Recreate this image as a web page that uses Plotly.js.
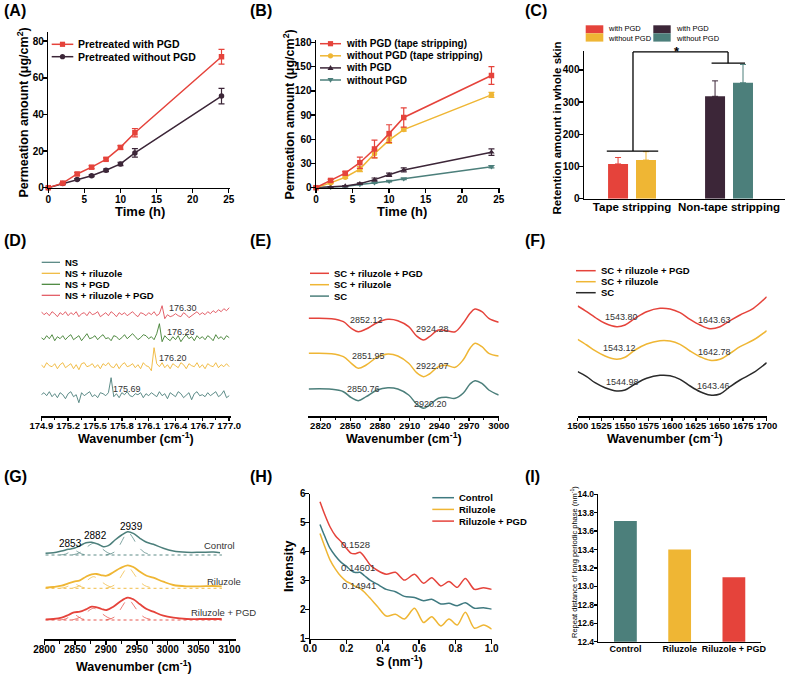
<!DOCTYPE html>
<html><head><meta charset="utf-8">
<script src="https://cdn.plot.ly/plotly-3.0.1.min.js"></script>
<style>html,body{margin:0;padding:0;background:#fff}#chart{width:788px;height:674px}</style>
</head><body><div id="chart"></div>
<script>
// ---------------- DATA ----------------
// (A)
const timeA = [0, 2, 4, 6, 8, 10, 12, 24];
const aWithPGD = [0, 2.5, 7.5, 11.2, 15.5, 22, 30, 71.5];
const aWithPGDErr = [0, 0.3, 0.8, 0.8, 0.8, 1, 2.3, 4];
const aWithoutPGD = [0, 2.3, 4.5, 6.5, 9.5, 13, 19, 50];
const aWithoutPGDErr = [0, 0.3, 0.5, 0.5, 0.7, 0.9, 2.3, 4.2];
// (B)
const timeB = [0, 2, 4, 6, 8, 10, 12, 24];
const bWithTape = [0, 9, 18, 31, 48, 67, 87, 139];
const bWithTapeErr = [0, 1.5, 2, 7, 11, 11, 12, 11];
const bWithoutTape = [0, 6, 13, 23, 42, 59, 72, 115];
const bWithoutTapeErr = [0, 1, 1.5, 3, 5, 4, 2, 3];
const bWith = [0, 1, 2, 5, 10, 16, 22, 44];
const bWithErr = [0, 0.5, 0.5, 1, 2, 2, 2.5, 4];
const bWithout = [0, 0.5, 1.5, 4, 6, 8, 11, 26];
const bWithoutErr = [0, 0.3, 0.4, 0.5, 0.6, 0.8, 1, 1.5];
// (C)
const catsC = ['Tape stripping', 'Non-tape stripping'];
const cTapeWith = 108, cTapeWithErr = 20;
const cTapeWithout = 120, cTapeWithoutErr = 26;
const cNonWith = 318, cNonWithErr = 48;
const cNonWithout = 360, cNonWithoutErr = 57;
// (D) Raman-like noisy spectra (stacked values)
const xD = [174.90,174.93,174.96,174.99,175.02,175.05,175.08,175.11,175.14,175.17,
 175.20,175.23,175.26,175.29,175.32,175.35,175.38,175.41,175.44,175.47,
 175.50,175.53,175.56,175.59,175.62,175.65,175.68,175.71,175.74,175.77,
 175.80,175.83,175.86,175.89,175.92,175.95,175.98,176.01,176.04,176.07,
 176.10,176.13,176.16,176.19,176.22,176.25,176.28,176.31,176.34,176.37,
 176.40,176.43,176.46,176.49,176.52,176.55,176.58,176.61,176.64,176.67,
 176.70,176.73,176.76,176.79,176.82,176.85,176.88,176.91,176.94,176.97,177.00];
const dNS = [21,23,20,24,19,22,18,23,21,17, 22,24,19,21,13,23,20,22,24,19,
 21,18,23,22,20,23,38,19,22,18, 23,21,24,20,19,22,21,23,18,22,
 20,23,21,19,24,20,22,17,23,21, 19,24,22,18,21,23,16,22,24,20,
 21,19,23,20,22,24,19,21,25,18, 20];
const dNSRil = [51,48,53,50,49,52,47,51,53,48, 50,52,47,51,46,52,53,49,50,52,
 48,51,47,52,50,53,49,48,52,47, 51,53,49,50,52,48,51,47,53,50,
 49,45,68,52,49,53,48,51,47,52, 50,48,53,51,47,52,50,49,53,48,
 51,47,52,50,49,53,48,51,49,52, 49];
const dNSPGD = [78,76,80,77,81,75,79,77,80,76, 79,81,76,78,80,75,79,82,77,78,
 80,76,79,81,77,78,75,80,79,76, 78,81,77,80,82,79,76,78,81,80,
 77,79,76,82,92,74,80,77,75,79, 76,80,74,78,81,77,79,75,80,77,
 79,76,80,78,75,81,77,79,76,80, 78];
const dNSRilPGD = [104,101,103,100,104,102,99,103,101,104, 100,103,101,104,99,102,103,100,104,101,
 102,104,99,101,103,100,104,102,99,103, 101,103,100,102,104,101,99,103,102,100,
 103,101,104,100,102,110,97,101,99,100, 102,100,99,103,101,98,100,102,104,101,
 103,101,104,102,105,103,106,104,107,105, 108];
const peaksD = ['175.69', '176.20', '176.26', '176.30'];
// (E) FTIR 2800-3000
const xE = [2808,2831,2843,2851,2858,2866,2877,2888,2898,2909,2917,2924,2930,2939,2947,2956,2964,2971,2976,2983,2990,3000];
const eRilPGD = [97.4,97.0,94.0,87.4,84.0,86.7,93.0,96.4,95.0,89.0,79.7,75.7,79.0,85.7,85.0,84.0,92.4,102.4,106.7,104.0,97.4,93.4];
const eRil = [62.4,62.0,59.0,52.4,47.4,50.7,58.4,61.7,59.7,52.4,43.0,39.0,41.7,49.0,50.4,48.4,55.7,67.4,72.4,69.0,62.4,59.7];
const eSC = [26.7,26.4,24.0,18.0,15.0,19.0,25.7,28.0,26.7,20.7,11.7,7.4,10.7,17.4,18.4,17.4,22.4,31.7,35.0,32.4,25.7,20.7];
const peaksE = [['2852.12','2924.28'],['2851.95','2922.07'],['2850.76','2920.20']];
// (F) FTIR 1500-1700
const xF = [1500,1509.5,1518.3,1528.9,1541.3,1550.1,1560.7,1573,1587.1,1597.7,1608.3,1618.9,1629.5,1640,1650.6,1661.2,1671.8,1685.9,1700];
const fRilPGD = [109.7,104.0,98.4,92.4,89.0,90.7,97.4,104.0,107.4,106.7,103.0,96.4,90.7,87.0,89.0,95.0,100.7,107.4,119.0];
const fRil = [76.4,70.7,65.0,59.7,56.4,58.4,65.7,71.7,75.0,74.7,71.4,64.7,59.0,55.4,56.4,62.4,69.0,75.7,85.0];
const fSC = [44.0,39.0,33.0,28.0,24.7,25.7,31.7,37.4,40.4,40.0,36.4,29.7,24.0,20.7,21.7,29.0,35.7,43.0,53.0];
const peaksF = [['1543.80','1643.63'],['1543.12','1642.78'],['1544.98','1643.46']];
// (G) Raman 2800-3100 with fitted components
const xGc = [2802,2814.6,2828,2839,2848,2857.8,2867.6,2876.8,2887.6,2895.7,2903.8,2914.6,2925.4,2935.1,2944.3,2955.1,2965.9,2976.8,2993,3009.2,3030.8,3052.4,3074.1,3084.9];
const gControl = [86.0,86.6,88.3,90.0,91.0,93.6,96.6,97.0,95.0,92.6,93.6,99.3,104.3,107.6,106.0,101.0,97.0,95.0,91.0,88.3,87.0,87.0,87.3,86.6];
const xGr = [2802.2,2814.6,2828.1,2838.9,2848.1,2857.8,2867.6,2876.8,2884.9,2893,2901.1,2911.9,2922.7,2935.1,2944.3,2955.1,2965.9,2976.8,2993,3009.2,3030.8,3052.4,3074.1,3087.6];
const gRil = [51.6,52.3,53.6,56.0,57.6,59.0,62.6,65.0,65.3,64.0,63.6,67.0,71.0,74.0,72.3,67.6,63.6,61.6,57.6,54.3,53.0,53.0,53.3,53.0];
const gRilPGD = [20.0,20.3,21.6,24.3,27.0,27.6,30.0,32.6,32.0,30.3,29.3,32.6,37.6,41.6,40.0,35.0,30.3,27.6,23.6,21.6,20.3,20.3,20.3,20.3];
const xComp2853 = [2825,2835,2842,2848,2854,2861,2871];
const xComp2882 = [2845,2857,2867,2874,2880,2886,2893,2903,2915];
const xComp2939 = [2900,2913,2923,2930,2936,2942,2950,2962,2978];
const xGBase = [2802, 3088];
const gCtl2853 = [84.3,85.3,87.6,89.3,87.6,85.3,84.3];
const gCtl2882 = [84.3,86.5,91,94.5,96,94.5,91,86.5,84.3];
const gCtl2939 = [84.3,87,95,103,107,103,95,87,84.3];
const gCtlBase = [84.3,84.3];
const gRil2853 = [51,52.2,54.2,56,54.2,52.2,51];
const gRil2882 = [51,53.5,57.5,61,62.6,61,57.5,53.5,51];
const gRil2939 = [51,54,61.5,68.5,72.6,68.5,61.5,54,51];
const gRilBase = [51,51];
const gPGD2853 = [19.3,20.5,23,25,23,20.5,19.3];
const gPGD2882 = [19.3,21.8,26,29.5,31,29.5,26,21.8,19.3];
const gPGD2939 = [19.3,22,29.5,36.5,40.3,36.5,29.5,22,19.3];
const gPGDBase = [19.3,19.3];
const peaksG = ['2853','2882','2939'];
const namesG = ['Control','Riluzole','Riluzole + PGD'];
// (H) SAXS
const xH = [0.055,0.08,0.11,0.14,0.17,0.2,0.225,0.25,0.275,0.3,0.33,0.37,0.42,0.47,0.52,0.575,0.625,0.67,0.72,0.765,0.81,0.855,0.905,0.955,1.0];
const hControl = [4.94,4.55,4.12,3.85,3.64,3.50,3.36,3.28,3.29,3.17,3.02,2.88,2.70,2.62,2.46,2.42,2.31,2.36,2.20,2.22,2.14,2.24,2.05,2.07,2.02];
const hRil = [4.63,4.20,3.72,3.40,3.15,2.98,2.90,2.80,2.74,2.60,2.40,2.12,1.78,1.84,1.68,2.05,1.56,1.76,1.44,1.68,1.47,1.91,1.36,1.47,1.33];
const hRilPGD = [5.72,5.30,4.86,4.55,4.35,4.12,3.95,3.93,3.98,3.82,3.55,3.36,3.22,3.29,3.02,3.22,2.91,3.10,2.82,2.97,2.77,3.08,2.70,2.76,2.70];
const peaksH = ['0.1528','0.14601','0.14941'];
// (I)
const catsI = ['Control', 'Riluzole', 'Riluzole + PGD'];
const repeatI = [13.71, 13.40, 13.10];

// ---------------- STYLE ----------------
const W = 788, H = 674;
const F = 'Liberation Sans, Arial, sans-serif';
const RED = '#e5433b', YEL = '#efb634', DARK = '#3c2638', TEAL = '#4c7f7b', GREEN = '#3f7f30', PINK = '#e0505a', BLK = '#2a2a2a', HBLUE = '#3f7a80';
const px = x => x / W, py = y => 1 - y / H;
const xd = (a, b) => [a / W, b / W];
const yd = (top, bot) => [1 - bot / H, 1 - top / H];

function axis(extra) {
  return Object.assign({showline: true, linecolor: '#000', linewidth: 1.5, ticks: 'outside', ticklen: 4, tickwidth: 1.5,
    tickcolor: '#000', showgrid: false, zeroline: false, automargin: false, fixedrange: true,
    tickfont: {family: F, size: 10, weight: 'bold', color: '#000'}}, extra);
}
function hidden(extra) { return Object.assign({visible: false, fixedrange: true, showgrid: false, zeroline: false}, extra); }

function txt(x, y, text, size, bold, anchor, extra) {
  return Object.assign({xref: 'paper', yref: 'paper', x: px(x), y: py(y), text: text, showarrow: false,
    xanchor: anchor || 'left', yanchor: 'middle', align: 'left',
    font: {family: F, size: size, color: '#000', weight: bold ? 'bold' : 'normal'}}, extra || {});
}
const annotations = [];
const shapes = [];
function legLine(x0, x1, y, color, w) {
  shapes.push({type: 'line', xref: 'paper', yref: 'paper', x0: px(x0), x1: px(x1), y0: py(y), y1: py(y), line: {color: color, width: w || 1.5}});
}
function legMarker(cx, cy, sym, color, r) {
  r = r || 2.6;
  if (sym === 'square') shapes.push({type: 'rect', xref: 'paper', yref: 'paper', x0: px(cx - r), x1: px(cx + r), y0: py(cy + r), y1: py(cy - r), fillcolor: color, line: {width: 0}});
  else if (sym === 'circle') shapes.push({type: 'circle', xref: 'paper', yref: 'paper', x0: px(cx - r), x1: px(cx + r), y0: py(cy + r), y1: py(cy - r), fillcolor: color, line: {width: 0}});
  else {
    const s = sym === 'up' ? 1 : -1;
    const path = 'M' + px(cx - r - 0.4) + ',' + py(cy + s * r * 0.8) + ' L' + px(cx + r + 0.4) + ',' + py(cy + s * r * 0.8) + ' L' + px(cx) + ',' + py(cy - s * r * 1.1) + ' Z';
    shapes.push({type: 'path', xref: 'paper', yref: 'paper', path: path, fillcolor: color, line: {width: 0}});
  }
}
function legRect(x0, x1, y0, y1, color) {
  shapes.push({type: 'rect', xref: 'paper', yref: 'paper', x0: px(x0), x1: px(x1), y0: py(y1), y1: py(y0), fillcolor: color, line: {width: 0}});
}

// ---------------- TRACES ----------------
const traces = [];
function errs(arr, color) { return {type: 'data', array: arr, color: color, thickness: 1.2, width: 3}; }
function lm(x, y, err, color, sym, xa, ya) {
  traces.push({type: 'scatter', mode: 'lines+markers', x: x, y: y, error_y: errs(err, color), cliponaxis: false,
    line: {color: color, width: 1.5}, marker: {symbol: sym, size: 5.5, color: color}, xaxis: xa, yaxis: ya, showlegend: false});
}
// A
lm(timeA, aWithoutPGD, aWithoutPGDErr, DARK, 'circle', 'x', 'y');
lm(timeA, aWithPGD, aWithPGDErr, RED, 'square', 'x', 'y');
// B
lm(timeB, bWithout, bWithoutErr, TEAL, 'triangle-down', 'x2', 'y2');
lm(timeB, bWith, bWithErr, DARK, 'triangle-up', 'x2', 'y2');
lm(timeB, bWithoutTape, bWithoutTapeErr, YEL, 'circle', 'x2', 'y2');
lm(timeB, bWithTape, bWithTapeErr, RED, 'square', 'x2', 'y2');
// C
function barC(cat, val, err, color, off) {
  traces.push({type: 'bar', x: [cat], y: [val], width: 0.206, offset: off, marker: {color: color},
    error_y: {type: 'data', symmetric: false, array: [err], arrayminus: [0], color: color, thickness: 1, width: 3},
    xaxis: 'x3', yaxis: 'y3', showlegend: false});
}
barC(catsC[0], cTapeWith, cTapeWithErr, RED, -0.247);
barC(catsC[0], cTapeWithout, cTapeWithoutErr, YEL, 0.041);
barC(catsC[1], cNonWith, cNonWithErr, DARK, -0.247);
barC(catsC[1], cNonWithout, cNonWithoutErr, TEAL, 0.041);
// D
[[dNS, TEAL], [dNSRil, YEL], [dNSPGD, GREEN], [dNSRilPGD, PINK]].forEach(function (p) {
  traces.push({type: 'scatter', mode: 'lines', x: xD, y: p[0], line: {color: p[1], width: 0.9}, xaxis: 'x4', yaxis: 'y4', showlegend: false});
});
// E
[[eSC, TEAL], [eRil, YEL], [eRilPGD, RED]].forEach(function (p) {
  traces.push({type: 'scatter', mode: 'lines', x: xE, y: p[0], line: {color: p[1], width: 1.5, shape: 'spline', smoothing: 1}, xaxis: 'x5', yaxis: 'y5', showlegend: false});
});
// F
[[fSC, BLK], [fRil, YEL], [fRilPGD, RED]].forEach(function (p) {
  traces.push({type: 'scatter', mode: 'lines', x: xF, y: p[0], line: {color: p[1], width: 1.5, shape: 'spline', smoothing: 1}, xaxis: 'x6', yaxis: 'y6', showlegend: false});
});
// G
function gLine(x, y, color, w, dash) {
  traces.push({type: 'scatter', mode: 'lines', x: x, y: y, line: {color: color, width: w, dash: dash || 'solid', shape: 'spline', smoothing: 1}, xaxis: 'x7', yaxis: 'y7', showlegend: false});
}
[[gCtlBase, gCtl2853, gCtl2882, gCtl2939, TEAL], [gRilBase, gRil2853, gRil2882, gRil2939, YEL], [gPGDBase, gPGD2853, gPGD2882, gPGD2939, RED]].forEach(function (c) {
  gLine(xGBase, c[0], c[4], 0.9, 'dot');
  gLine(xComp2853, c[1], c[4], 0.7, 'dash');
  gLine(xComp2882, c[2], c[4], 0.7, 'dash');
  gLine(xComp2939, c[3], c[4], 0.7, 'dash');
});
gLine(xGc, gControl, TEAL, 1.5);
gLine(xGr, gRil, YEL, 1.8);
gLine(xGr, gRilPGD, RED, 1.8);
// H
[[hControl, HBLUE], [hRil, YEL], [hRilPGD, RED]].forEach(function (p) {
  traces.push({type: 'scatter', mode: 'lines', x: xH, y: p[0], line: {color: p[1], width: 1.5, shape: 'spline', smoothing: 0.8}, xaxis: 'x8', yaxis: 'y8', showlegend: false});
});
// I
traces.push({type: 'bar', x: catsI, y: repeatI, width: 0.42, marker: {color: [TEAL, YEL, RED]}, xaxis: 'x9', yaxis: 'y9', showlegend: false});

// ---------------- BRACKETS (C) ----------------
const tapeTop = Math.max(cTapeWith + cTapeWithErr, cTapeWithout + cTapeWithoutErr) + 2;
const nonTop = Math.max(cNonWith + cNonWithErr, cNonWithout + cNonWithoutErr) + 4;
const brTop = nonTop + 35;
const bl = {color: '#000', width: 1.3};
shapes.push({type: 'line', xref: 'x3', yref: 'y3', x0: -0.26, x1: 0.27, y0: tapeTop, y1: tapeTop, line: bl});
shapes.push({type: 'line', xref: 'x3', yref: 'y3', x0: 0.01, x1: 0.01, y0: tapeTop, y1: brTop, line: bl});
shapes.push({type: 'line', xref: 'x3', yref: 'y3', x0: 0.01, x1: 0.99, y0: brTop, y1: brTop, line: bl});
shapes.push({type: 'line', xref: 'x3', yref: 'y3', x0: 0.99, x1: 0.99, y0: brTop, y1: nonTop, line: bl});
shapes.push({type: 'line', xref: 'x3', yref: 'y3', x0: 0.82, x1: 1.165, y0: nonTop, y1: nonTop, line: bl});
annotations.push({xref: 'x3', yref: 'y3', x: 0.46, y: brTop, text: '*', showarrow: false, yanchor: 'middle', font: {family: F, size: 13, weight: 'bold', color: '#000'}});

// ---------------- LEGENDS ----------------
// A
legLine(51.7, 73.3, 44.3, RED); legMarker(62.5, 44.3, 'square', RED);
annotations.push(txt(76, 44.3, 'Pretreated with PGD', 10.5, true));
legLine(51.7, 73.3, 56.7, DARK); legMarker(62.5, 56.7, 'circle', DARK);
annotations.push(txt(76, 56.7, 'Pretreated without PGD', 10.5, true));
// B
const legB = [['with PGD (tape stripping)', RED, 'square'], ['without PGD (tape stripping)', YEL, 'circle'], ['with PGD', DARK, 'up'], ['without PGD', TEAL, 'down']];
legB.forEach(function (l, i) {
  const y = 43.7 + i * 12.1;
  legLine(320, 341, y, l[1]); legMarker(330.5, y, l[2], l[1]);
  annotations.push(txt(344.3, y, l[0], 10, true));
});
// C
legRect(585.7, 603.3, 25.3, 33.3, RED); legRect(585.7, 603.3, 33.3, 41.6, YEL);
legRect(653.3, 670.7, 25.3, 33.3, DARK); legRect(653.3, 670.7, 33.3, 41.6, TEAL);
annotations.push(txt(606, 29, 'with PGD', 7.5, false)); annotations.push(txt(606, 38.3, 'without PGD', 7.5, false));
annotations.push(txt(673.5, 29, 'with PGD', 7.5, false)); annotations.push(txt(673.5, 38.3, 'without PGD', 7.5, false));
// D
[['NS', TEAL], ['NS + riluzole', YEL], ['NS + PGD', GREEN], ['NS + riluzole + PGD', PINK]].forEach(function (l, i) {
  const y = 262.3 + i * 11;
  legLine(41.7, 60, y, l[1], 1.2);
  annotations.push(txt(63.3, y, l[0], 9.5, true));
});
// E
[['SC + riluzole + PGD', RED], ['SC + riluzole', YEL], ['SC', TEAL]].forEach(function (l, i) {
  const y = 273.3 + i * 11.4;
  legLine(310, 329, y, l[1], 1.5);
  annotations.push(txt(332.3, y, l[0], 9.5, true));
});
// F
[['SC + riluzole + PGD', RED], ['SC + riluzole', YEL], ['SC', BLK]].forEach(function (l, i) {
  const y = 270.7 + i * 11;
  legLine(576, 595.7, y, l[1], 1.5);
  annotations.push(txt(599, y, l[0], 9.5, true));
});
// H
[['Control', HBLUE], ['Riluzole', YEL], ['Riluzole + PGD', RED]].forEach(function (l, i) {
  const y = 497.7 + i * 11.7;
  legLine(432.3, 454, y, l[1], 1.5);
  annotations.push(txt(456.7, y, l[0], 9.5, true));
});

// ---------------- PEAK LABELS ----------------
function plab(x, y, t, s) { const a = txt(x, y, t, s || 9, false); a.font.color = '#333'; annotations.push(a); }
plab(111, 389.3, peaksD[0]); plab(156.7, 358.3, peaksD[1]); plab(165, 332.3, peaksD[2]); plab(166.7, 307.7, peaksD[3]);
plab(347.7, 320, peaksE[0][0]); plab(414.3, 329, peaksE[0][1]);
plab(350, 356, peaksE[1][0]); plab(414, 365.7, peaksE[1][1]);
plab(345, 389.3, peaksE[2][0]); plab(412.3, 404, peaksE[2][1]);
plab(603.3, 317.3, peaksF[0][0]); plab(695.7, 320, peaksF[0][1]);
plab(601, 348.3, peaksF[1][0]); plab(695.7, 352.3, peaksF[1][1]);
plab(604, 382.3, peaksF[2][0]); plab(695, 385.7, peaksF[2][1]);
annotations.push(txt(57.3, 543.3, peaksG[0], 10, false)); annotations.push(txt(81.7, 535, peaksG[1], 10, false)); annotations.push(txt(118.3, 526.7, peaksG[2], 10, false));
[[202.3, 545], [205, 581], [189, 612.7]].forEach(function (p, i) { const a = txt(p[0], p[1], namesG[i], 9.5, false); a.font.color = '#333'; annotations.push(a); });
plab(339, 544.3, peaksH[0], 9.5); plab(339, 567.3, peaksH[1], 9.5); plab(340, 585, peaksH[2], 9.5);

// ---------------- TITLES ----------------
['(A)', '(B)', '(C)', '(D)', '(E)', '(F)', '(G)', '(H)', '(I)'].forEach(function (t, i) {
  const xs = [2, 248, 523], ys = [11, 241, 477];
  annotations.push(txt(xs[i % 3], ys[Math.floor(i / 3)], t, 16, true));
});
annotations.push(txt(22.5, 113, 'Permeation amount (μg/cm<sup>2</sup>)', 12.5, true, 'center', {textangle: -90}));
annotations.push(txt(139.5, 211.5, 'Time (h)', 13, true, 'center'));
annotations.push(txt(288.5, 115, 'Permeation amount (μg/cm<sup>2</sup>)', 12.5, true, 'center', {textangle: -90}));
annotations.push(txt(402, 211.5, 'Time (h)', 13, true, 'center'));
annotations.push(txt(556.5, 128, 'Retention amount in whole skin', 11.5, true, 'center', {textangle: -90}));
annotations.push(txt(136, 438.5, 'Wavenumber (cm<sup>-1</sup>)', 12.5, true, 'center'));
annotations.push(txt(404, 438.5, 'Wavenumber (cm<sup>-1</sup>)', 12.5, true, 'center'));
annotations.push(txt(664.5, 438, 'Wavenumber (cm<sup>-1</sup>)', 12.5, true, 'center'));
annotations.push(txt(134, 665.5, 'Wavenumber (cm<sup>-1</sup>)', 12.5, true, 'center'));
annotations.push(txt(399, 661, 'S (nm<sup>-1</sup>)', 12.5, true, 'center'));
annotations.push(txt(289, 567, 'Intensity', 12.5, true, 'center', {textangle: -90}));
annotations.push(txt(574, 562, 'Repeat distance of long periodic phase (nm<sup>-1</sup>)', 7.5, false, 'center', {textangle: -90}));

// ---------------- LAYOUT ----------------
const spec = {ticks: 'outside', ticklen: 3.5, tickwidth: 1.5, linewidth: 2, ticklabelstandoff: -4, tickfont: {family: F, size: 9.5, weight: 'bold', color: '#000'}};
const layout = {
  width: W, height: H, margin: {l: 0, r: 0, t: 0, b: 0, pad: 0}, paper_bgcolor: '#fff', plot_bgcolor: 'rgba(0,0,0,0)',
  showlegend: false, font: {family: F},
  xaxis: axis({domain: xd(48.3, 229.8), range: [0, 25.15], dtick: 5, anchor: 'y', ticklabelstandoff: -2}),
  yaxis: axis({domain: yd(32, 187.7), range: [0, 85], dtick: 20, anchor: 'x', ticklabelstandoff: -3}),
  xaxis2: axis({domain: xd(316, 499.5), range: [0, 25.1], dtick: 5, anchor: 'y2', ticklabelstandoff: -2}),
  yaxis2: axis({domain: yd(40, 187.7), range: [0, 183], dtick: 30, anchor: 'x2', ticklabelstandoff: -3}),
  xaxis3: axis({domain: xd(584, 785), range: [-0.495, 1.577], type: 'category', categoryorder: 'array', categoryarray: catsC, ticks: '', anchor: 'y3',
    ticklabelstandoff: -3, tickfont: {family: F, size: 11.5, weight: 'bold', color: '#000'}}),
  yaxis3: axis({domain: yd(50.6, 198.7), range: [0, 460], tickvals: [0, 100, 200, 300, 400], anchor: 'x3', ticklabelstandoff: -3}),
  xaxis4: axis(Object.assign({}, spec, {domain: xd(41.3, 231), range: [174.9, 177.02], tick0: 174.9, dtick: 0.3, tickformat: '.1f', anchor: 'y4',
    minor: {dtick: 0.15, tick0: 174.9, ticklen: 2.5, tickwidth: 1, ticks: 'outside', tickcolor: '#000'}})),
  yaxis4: hidden({domain: yd(250, 415.7), range: [0, 165.7], anchor: 'x4'}),
  xaxis5: axis(Object.assign({}, spec, {domain: xd(308.3, 498.7), range: [2807.5, 3000], tick0: 2820, dtick: 30, anchor: 'y5',
    minor: {dtick: 15, tick0: 2820, ticklen: 2.5, tickwidth: 1, ticks: 'outside', tickcolor: '#000'}})),
  yaxis5: hidden({domain: yd(250, 415.7), range: [0, 165.7], anchor: 'x5'}),
  xaxis6: axis(Object.assign({}, spec, {domain: xd(577.7, 766.7), range: [1500, 1700], tick0: 1500, dtick: 25, anchor: 'y6',
    minor: {dtick: 12.5, tick0: 1500, ticklen: 2.5, tickwidth: 1, ticks: 'outside', tickcolor: '#000'}})),
  yaxis6: hidden({domain: yd(250, 415.7), range: [0, 165.7], anchor: 'x6'}),
  xaxis7: axis(Object.assign({}, spec, {domain: xd(44.3, 235.5), range: [2800, 3110], tick0: 2800, dtick: 50, anchor: 'y7',
    tickfont: {family: F, size: 10, weight: 'bold', color: '#000'},
    minor: {dtick: 25, tick0: 2800, ticklen: 2.5, tickwidth: 1, ticks: 'outside', tickcolor: '#000'}})),
  yaxis7: hidden({domain: yd(500, 639.3), range: [0, 139.3], anchor: 'x7'}),
  xaxis8: axis({domain: xd(310, 491.7), range: [0, 1], dtick: 0.2, tickformat: '.1f', anchor: 'y8', ticklabelstandoff: -4}),
  yaxis8: axis({domain: yd(493.7, 638.7), range: [1, 6], dtick: 1, anchor: 'x8', ticklabelstandoff: -3}),
  xaxis9: axis({domain: xd(598.3, 761), range: [-0.5, 2.5], type: 'category', ticks: '', anchor: 'y9', ticklabelstandoff: -2,
    tickfont: {family: F, size: 9, weight: 'bold', color: '#000'}}),
  yaxis9: axis({domain: yd(494.3, 641.7), range: [12.4, 14.0], dtick: 0.2, tickformat: '.1f', anchor: 'x9', ticklen: 3, ticklabelstandoff: -2,
    tickfont: {family: F, size: 8.5, weight: 'bold', color: '#000'}}),
  shapes: shapes,
  annotations: annotations
};
Plotly.newPlot('chart', traces, layout, {staticPlot: true, displayModeBar: false});
</script>
</body></html>
